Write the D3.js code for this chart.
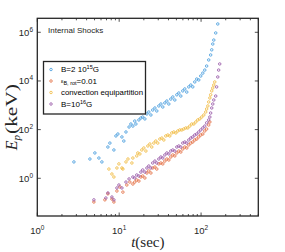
<!DOCTYPE html>
<html>
<head>
<meta charset="utf-8">
<script src="https://cdnjs.cloudflare.com/ajax/libs/d3/7.8.5/d3.min.js"></script>
<style>
body { margin: 0; background: #fff; }
svg { display: block; }
</style>
</head>
<body>
<script>

// data: t (sec) and Ep (keV)
var blueT = [2.8, 4.39, 5.05, 5.65, 6.15, 7.28, 7.7, 8.62, 9.12, 9.64, 10.8, 11.4, 12.1, 13.2, 13.9, 14.7, 15.5, 16.0,
             17.4, 18.4, 19.4, 20.6, 21.8, 23.0, 24.4, 25.7, 27.3, 28.8, 30.5, 32.3, 34.1, 36.1, 38.2, 40.4, 42.7, 45.2,
             47.8, 50.6, 53.5, 56.6, 59.8, 63.3, 66.9, 70.8, 74.9, 79.2, 83.8, 88.6, 93.7, 99.1, 105, 111, 117, 124,
             131, 135, 139, 143, 151, 160];
var blueE = [4.7, 6.2, 11, 6.8, 4.7, 19.3, 28, 14.6, 55, 66, 50, 34, 80, 128, 170, 140, 225, 170,
             250, 300, 330, 275, 440, 530, 400, 640, 775, 585, 940, 1130, 850, 1250, 1500, 1130, 1800, 2200,
             1650, 2700, 3200, 2400, 3900, 4700, 3500, 5700, 6800, 5700, 9100, 12000, 11000, 16000, 21000, 28000, 41000, 73000,
             117000, 190000, 330000, 480000, 940000, 2.2e6];

var orangeT = [4.91, 6.69, 7.28, 8.15, 8.62, 9.38, 10.2, 11.1, 12.4, 13.5, 14.7, 15.5, 16.4, 17.4, 18.4, 19.4, 20.6,
               21.8, 23.0, 24.4, 25.7, 27.3, 28.8, 30.5, 32.3, 34.1, 36.1, 38.2, 40.4, 42.7, 45.2, 47.8, 50.6, 53.5,
               56.6, 59.8, 63.3, 66.9, 70.8, 74.9, 79.2, 83.8, 88.6, 93.7, 99.1, 105, 111, 117, 124, 128];
var orangeE = [0.106, 0.13, 0.23, 0.14, 0.106, 0.3, 0.44, 0.27, 0.53, 0.7, 0.58, 0.7, 0.85, 0.77, 1.13, 1.24, 1.03,
               1.65, 2.0, 1.65, 2.65, 2.9, 2.4, 3.9, 4.25, 3.9, 5.1, 6.2, 5.65, 7.5, 9.1, 8.3, 11, 13.2,
               12, 16, 19.3, 17.6, 23.4, 28, 31, 37.5, 41, 50, 60, 66, 88, 106, 155, 206];

var yellowT = [7.49, 8.15, 8.62, 9.38, 9.92, 10.8, 11.1, 12.1, 12.8, 14.3, 14.7, 16.4, 16.9, 17.9, 18.9, 20.0, 21.2,
               22.4, 23.7, 25.0, 26.5, 28.0, 29.6, 31.4, 33.2, 35.1, 37.1, 39.3, 41.5, 43.9, 46.5, 49.2, 52.0, 55.0,
               58.2, 61.5, 65.1, 68.8, 72.8, 77.0, 81.5, 86.2, 91.1, 96.4, 102, 108, 114, 117, 121, 124, 128, 131,
               135, 139, 143, 147];
var yellowE = [2.4, 1.5, 1.13, 2.65, 3.9, 2.65, 2.4, 4.7, 6.2, 4.25, 6.8, 8.3, 11, 10, 14.6, 17.6, 13.2,
               21.3, 25.7, 19.3, 28, 34, 28, 41, 45, 37.5, 55, 60, 55, 73, 80, 73, 88, 97,
               97, 106, 117, 117, 140, 170, 170, 206, 250, 275, 330, 400, 530, 705, 940, 1370, 2000, 2700,
               3900, 5140, 6800, 9100];

var purpleT = [4.91, 6.88, 7.28, 8.15, 8.62, 9.38, 9.92, 10.8, 12.1, 13.2, 14.7, 15.5, 16.4, 17.4, 18.4, 19.4, 20.6,
               21.8, 23.0, 24.4, 25.7, 27.3, 28.8, 30.5, 32.3, 34.1, 36.1, 38.2, 40.4, 42.7, 45.2, 47.8, 50.6, 53.5,
               56.6, 59.8, 63.3, 66.9, 70.8, 74.9, 79.2, 83.8, 88.6, 93.7, 99.1, 105, 111, 117, 124, 128, 131, 135,
               139, 143, 151, 155, 160, 164, 169];
var purpleE = [0.13, 0.155, 0.25, 0.17, 0.13, 0.4, 0.53, 0.4, 0.7, 0.94, 1.13, 1.03, 1.37, 1.24, 1.8, 2.2, 1.8,
               2.65, 3.2, 2.65, 4.25, 5.1, 4.25, 6.2, 7.5, 6.8, 9.1, 11, 10, 13.2, 14.6, 13.2, 19.3, 21.3,
               19.3, 28, 31, 28, 37.5, 45, 50, 60, 66, 80, 97, 117, 140, 190, 250, 330, 480, 775,
               1130, 1650, 2400, 5700, 14600, 28000, 50000];

var seriesNames = ["B=2 10^15G", "eps", "convection equipartition", "B=10^16G"];
var colors = ["#3f98dc", "#e26a3c", "#f0b838", "#9350a3"];
var xTicks = [1, 10, 100];
var yTicks = [1, 100, 1e4, 1e6];

var W = 285, H = 252;
var svg = d3.select("body").append("svg").attr("width", W).attr("height", H);

var x = d3.scaleLog().domain([1, 500]).range([37.3, 258.3]);
var y = d3.scaleLog().domain([Math.pow(10, -1.55), Math.pow(10, 6.575)]).range([216, 18.3]);

var x0 = x.range()[0], x1 = x.range()[1], yb = y.range()[0], yt = y.range()[1];

// minor x ticks
var minorX = [];
[1, 10, 100].forEach(function(d) {
    for (var k = 2; k <= 9; k++) if (d * k <= 500) minorX.push(d * k);
});

var axisCol = "#262626";
var g = svg.append("g");

minorX.forEach(function(v) {
    var px = x(v);
    g.append("line").attr("x1", px).attr("x2", px).attr("y1", yb).attr("y2", yb - 2).attr("stroke", axisCol).attr("stroke-width", 0.8);
    g.append("line").attr("x1", px).attr("x2", px).attr("y1", yt).attr("y2", yt + 2).attr("stroke", axisCol).attr("stroke-width", 0.8);
});
xTicks.forEach(function(v) {
    var px = x(v);
    g.append("line").attr("x1", px).attr("x2", px).attr("y1", yb).attr("y2", yb - 3.5).attr("stroke", axisCol).attr("stroke-width", 0.8);
    g.append("line").attr("x1", px).attr("x2", px).attr("y1", yt).attr("y2", yt + 3.5).attr("stroke", axisCol).attr("stroke-width", 0.8);
    var t = g.append("text").attr("x", px).attr("y", 234).attr("text-anchor", "middle")
        .attr("font-family", "Liberation Sans, Arial, sans-serif").attr("font-size", 9.5).attr("fill", axisCol);
    t.append("tspan").text("10");
    t.append("tspan").attr("dy", -4).attr("font-size", 6.5).text(Math.round(Math.log10(v)));
});
yTicks.forEach(function(v) {
    var py = y(v);
    g.append("line").attr("x1", x0).attr("x2", x0 + 3.5).attr("y1", py).attr("y2", py).attr("stroke", axisCol).attr("stroke-width", 0.8);
    g.append("line").attr("x1", x1).attr("x2", x1 - 3.5).attr("y1", py).attr("y2", py).attr("stroke", axisCol).attr("stroke-width", 0.8);
    var t = g.append("text").attr("x", 33).attr("y", py + 3.5).attr("text-anchor", "end")
        .attr("font-family", "Liberation Sans, Arial, sans-serif").attr("font-size", 9.5).attr("fill", axisCol);
    t.append("tspan").text("10");
    t.append("tspan").attr("dy", -4).attr("font-size", 6.5).text(Math.round(Math.log10(v)));
});

// data points
var series = [
    {t: blueT, e: blueE},
    {t: orangeT, e: orangeE},
    {t: yellowT, e: yellowE},
    {t: purpleT, e: purpleE}
];
series.forEach(function(s, i) {
    svg.append("g").selectAll("circle")
        .data(d3.zip(s.t, s.e))
        .enter().append("circle")
        .attr("cx", function(d) { return x(d[0]); })
        .attr("cy", function(d) { return y(d[1]); })
        .attr("r", 1.25)
        .attr("fill", "none")
        .attr("stroke", colors[i])
        .attr("stroke-width", 0.8);
});

// frame
svg.append("rect").attr("x", x0).attr("y", yt).attr("width", x1 - x0).attr("height", yb - yt)
    .attr("fill", "none").attr("stroke", axisCol).attr("stroke-width", 1.3);

// annotation
svg.append("text").attr("x", 48).attr("y", 33).attr("font-family", "Liberation Sans, Arial, sans-serif")
    .attr("font-size", 8).attr("fill", axisCol).text("Internal Shocks");

// legend
var leg = svg.append("g");
leg.append("rect").attr("x", 43.5).attr("y", 61.5).attr("width", 102).attr("height", 52.5)
    .attr("fill", "#fff").attr("stroke", axisCol).attr("stroke-width", 1.3);
var rows = [69.5, 81, 92.5, 104];
rows.forEach(function(ry, i) {
    leg.append("circle").attr("cx", 51).attr("cy", ry).attr("r", 1.25).attr("fill", "none")
        .attr("stroke", colors[i]).attr("stroke-width", 0.8);
    var t = leg.append("text").attr("x", 61).attr("y", ry + 2.8)
        .attr("font-family", "Liberation Sans, Arial, sans-serif").attr("font-size", 8).attr("fill", "#000");
    if (i === 0) {
        t.append("tspan").text("B=2 10");
        t.append("tspan").attr("dy", -3).attr("font-size", 5.5).text("15");
        t.append("tspan").attr("dy", 3).text("G");
    } else if (i === 1) {
        t.append("tspan").attr("font-size", 5.5).attr("dy", -1).text("\u03B5");
        t.append("tspan").attr("dy", 2).attr("font-size", 5.5).text("B, rot");
        t.append("tspan").attr("dy", -1).text("=0.01");
    } else if (i === 3) {
        t.append("tspan").text("B=10");
        t.append("tspan").attr("dy", -3).attr("font-size", 5.5).text("16");
        t.append("tspan").attr("dy", 3).text("G");
    } else {
        t.text(seriesNames[i]).attr("textLength", 82).attr("lengthAdjust", "spacingAndGlyphs");
    }
});

// axis labels
var xl = svg.append("text").attr("x", 147.8).attr("y", 247).attr("text-anchor", "middle")
    .attr("font-family", "Liberation Serif, Times New Roman, serif").attr("font-size", 15).attr("fill", axisCol);
xl.append("tspan").attr("font-style", "italic").text("t");
xl.append("tspan").text("(sec)");

var yl = svg.append("text").attr("transform", "translate(17," + ((yb + yt) / 2) + ") rotate(-90)")
    .attr("text-anchor", "middle")
    .attr("font-family", "Liberation Serif, Times New Roman, serif").attr("font-size", 16).attr("fill", axisCol);
yl.append("tspan").attr("font-style", "italic").text("E");
yl.append("tspan").attr("font-style", "italic").attr("font-size", 11).attr("dy", 3).text("p");
yl.append("tspan").attr("dy", -3).attr("dx", 1).text("(keV)").attr("textLength", 50).attr("lengthAdjust", "spacingAndGlyphs");

</script>
</body>
</html>
